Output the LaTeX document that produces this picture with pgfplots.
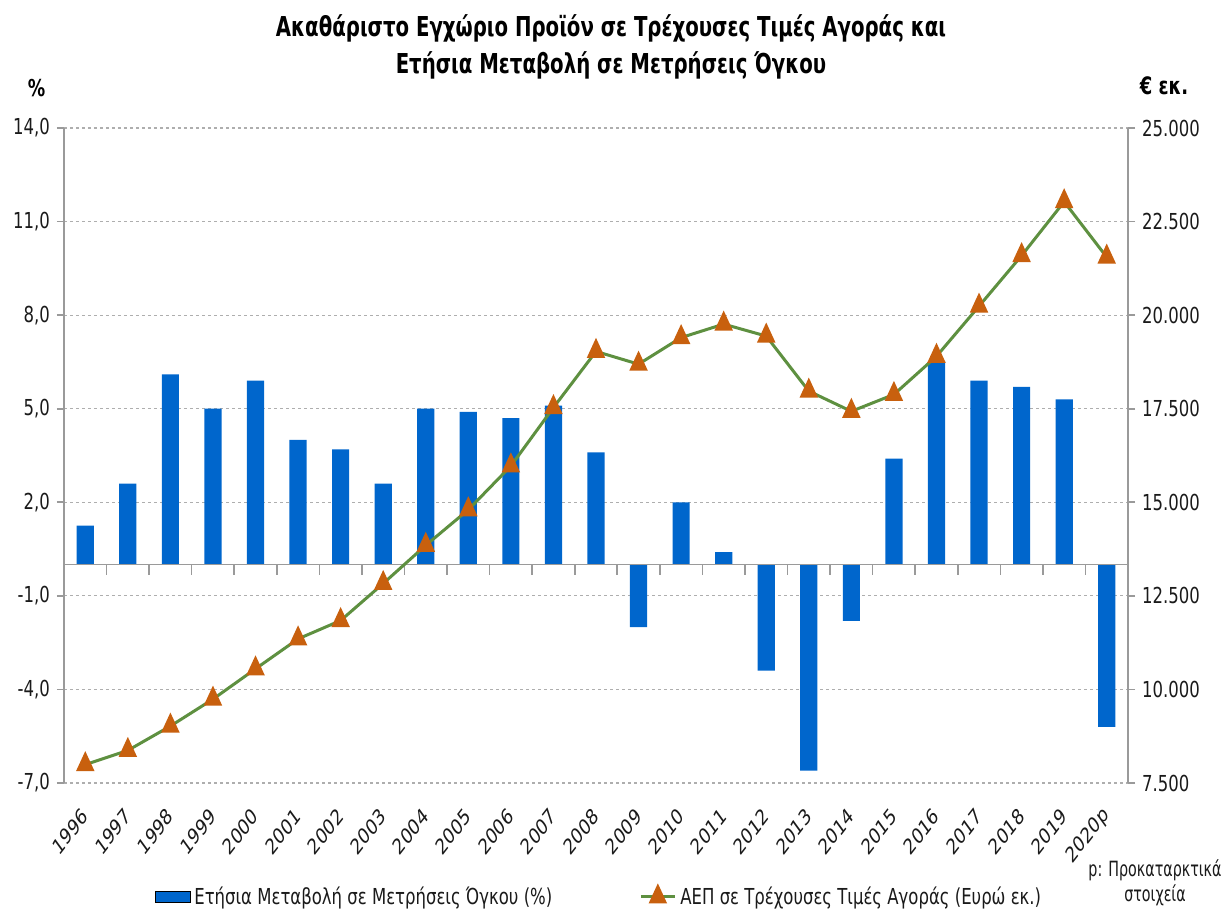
\documentclass[border=0pt]{standalone}
\usepackage{fontspec}
\setmainfont[FakeStretch=0.75]{DejaVu Sans}
\newfontfamily\titlefont[FakeStretch=0.72]{DejaVu Sans}
\newfontfamily\plainfont{DejaVu Sans}
\newfontfamily\narrowfont[FakeStretch=0.68]{DejaVu Sans}
\usepackage{pgfplots}
\pgfplotsset{compat=1.18}
\definecolor{barblue}{HTML}{0066CC}
\definecolor{linegreen}{HTML}{5E9040}
\definecolor{markorange}{HTML}{C8600E}
\definecolor{axgray}{HTML}{9A9A9A}
\definecolor{txt}{HTML}{1A1A1A}
\pgfplotstableread{
x growth gdp
0 1.25 7990
1 2.6 8370
2 6.1 9020
3 5.0 9740
4 5.9 10550
5 4.0 11350
6 3.7 11840
7 2.6 12830
8 5.0 13850
9 4.9 14800
10 4.7 15970
11 5.1 17530
12 3.6 19030
13 -2.0 18690
14 2.0 19400
15 0.4 19760
16 -3.4 19440
17 -6.6 17970
18 -1.8 17430
19 3.4 17880
20 6.5 18900
21 5.9 20240
22 5.7 21590
23 5.3 23030
24 -5.2 21550
}\data
\begin{document}
\begin{tikzpicture}
\useasboundingbox (-32pt,-63pt) rectangle (582pt,391.5pt);
\begin{axis}[
 at={(0,0)}, anchor=south west,
 scale only axis, width=532pt, height=327.5pt,
 xmin=-0.5, xmax=24.5, ymin=-7, ymax=14,
 axis x line*=bottom, axis y line*=left,
 x axis line style={draw=none},
 y axis line style={axgray, line width=0.8pt, -},
 xtick={0,...,24},
 xticklabels={1996,1997,1998,1999,2000,2001,2002,2003,2004,2005,2006,2007,2008,2009,2010,2011,2012,2013,2014,2015,2016,2017,2018,2019,2020p},
 xtick style={draw=none},
 xtick align=inside, ytick align=outside,
 xticklabel style={font=\plainfont\fontsize{10.8}{12}\selectfont, text=txt, inner sep=0pt, anchor=east, xshift=0pt, yshift=-11pt, xscale=0.75, rotate=44},
 ytick={-7,-4,...,14},
 ytick style={axgray, line width=0.8pt},
 major tick length=3.5pt,
 yticklabel style={/pgf/number format/fixed, /pgf/number format/fixed zerofill, /pgf/number format/precision=1, /pgf/number format/use comma, /pgf/number format/assume math mode=true, font=\fontsize{11}{13}\selectfont, text=txt},
 ymajorgrids, grid style={dash pattern=on 1.5pt off 1.5pt, axgray!80, line width=0.6pt},
 ybar, bar width=8.6pt,
]
\addplot[fill=barblue, draw=none] table[x=x, y=growth] {\data};
\draw[axgray, line width=0.8pt] (axis cs:-0.5,0) -- (axis cs:24.5,0);
\pgfplotsinvokeforeach{0,...,23}{\draw[axgray, line width=0.8pt] (axis cs:#1+0.5,0) -- ([yshift=-5pt]axis cs:#1+0.5,0);}
\end{axis}
\begin{axis}[
 at={(0,0)}, anchor=south west,
 scale only axis, width=532pt, height=327.5pt,
 xmin=-0.5, xmax=24.5, ymin=7500, ymax=25000,
 axis x line=none, axis y line*=right,
 y axis line style={axgray, line width=0.8pt, -},
 ytick={7500,10000,...,25000},
 scaled y ticks=false,
 ytick style={axgray, line width=0.8pt},
 tick align=outside, major tick length=3.5pt,
 yticklabel style={/pgf/number format/fixed, /pgf/number format/precision=0, /pgf/number format/1000 sep={.}, /pgf/number format/assume math mode=true, font=\fontsize{11}{13}\selectfont, text=txt},
 legend columns=2,
 legend style={draw=none, fill=none, at={(0.504,-0.174)}, anchor=center, font=\fontsize{11}{13}\selectfont, text=txt, /tikz/every even column/.append style={column sep=41.5pt}},
]
\addlegendimage{area legend, fill=barblue, draw=none}
\addlegendentry{Ετήσια Μεταβολή σε Μετρήσεις Όγκου (\%)}
\addplot[linegreen, line width=1.5pt, mark=triangle*, mark size=5pt, mark options={markorange, solid, xscale=0.8}] table[x=x, y=gdp] {\data};
\addlegendentry{ΑΕΠ σε Τρέχουσες Τιμές Αγοράς (Ευρώ εκ.)}
\end{axis}
\node[anchor=base, font=\titlefont\bfseries\fontsize{13.7}{16}\selectfont, text=black] at (273.5pt,373pt) {Ακαθάριστο Εγχώριο Προϊόν σε Τρέχουσες Τιμές Αγοράς και};
\node[anchor=base, font=\titlefont\bfseries\fontsize{13.7}{16}\selectfont, text=black] at (273.5pt,354.5pt) {Ετήσια Μεταβολή σε Μετρήσεις Όγκου};
\node[anchor=base, font=\bfseries\fontsize{11.6}{13}\selectfont, text=black] at (-13.75pt,343.2pt) {\%};
\node[anchor=base, font=\bfseries\fontsize{12}{13}\selectfont, text=black] at (550pt,344pt) {€ εκ.};
\node[anchor=base, font=\narrowfont\fontsize{10.5}{12}\selectfont, text=txt] at (545.5pt,-47pt) {p: Προκαταρκτικά};
\node[anchor=base, font=\narrowfont\fontsize{10.5}{12}\selectfont, text=txt] at (545.5pt,-59.5pt) {στοιχεία};
\end{tikzpicture}
\end{document}
